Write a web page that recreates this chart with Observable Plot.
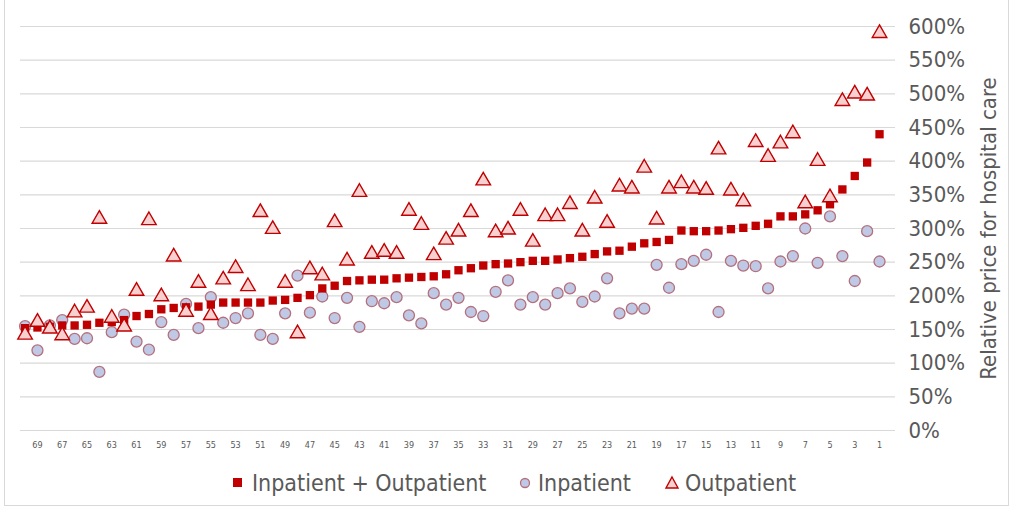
<!DOCTYPE html>
<html>
<head>
<meta charset="utf-8">
<script src="https://cdn.jsdelivr.net/npm/d3@7"></script>
<script src="https://cdn.jsdelivr.net/npm/@observablehq/plot@0.6"></script>
<style>
  body { margin: 0; background: #fff; }
  #wrap { position: relative; width: 1014px; height: 509px; overflow: hidden;
    font-family: "Liberation Sans Narrow", "DejaVu Sans Condensed", sans-serif; color: #595959; }
  #frame { position: absolute; left: 4px; top: -1px; width: 1005px; height: 507px; border: 1px solid #d9d9d9; box-sizing: border-box; }
  #chart { position: absolute; left: 0; top: 0; }
  .leg { position: absolute; top: 469px; font-size: 23px; line-height: 28px; white-space: nowrap; color: #595959; }
  .sym { position: absolute; top: 473px; }
</style>
</head>
<body>
<div id="wrap">
  <div id="frame"></div>
  <div id="chart"></div>
  <svg class="sym" style="left:231px" width="14" height="20"><rect x="2" y="5" width="9" height="9" fill="#c00000"/></svg>
  <div class="leg" style="left:252px">Inpatient + Outpatient</div>
  <svg class="sym" style="left:517px" width="16" height="20"><circle cx="8" cy="10" r="4.5" fill="#bfc9e6" stroke="#b5707c" stroke-width="1.3"/></svg>
  <div class="leg" style="left:538px">Inpatient</div>
  <svg class="sym" style="left:663px" width="18" height="20"><path d="M9,4 L15,15 L3,15 Z" fill="#f9d0d0" stroke="#c00000" stroke-width="1.4"/></svg>
  <div class="leg" style="left:685px">Outpatient</div>
</div>
<script>
// Hospitals ranked from left (70) to right (1)
const hospital = [70,69,68,67,66,65,64,63,62,61,60,59,58,57,56,55,54,53,52,51,50,49,48,47,46,45,44,43,42,41,40,39,38,37,36,35,34,33,32,31,30,29,28,27,26,25,24,23,22,21,20,19,18,17,16,15,14,13,12,11,10,9,8,7,6,5,4,3,2,1];

// Relative price (%) – Inpatient + Outpatient
const combined = [152,153,154,156,156,157,160,161,164,170,173,180,182,183,184,187,190,190,190,190,193,194,197,201,211,215,222,223,224,224,226,227,228,229,232,238,241,245,247,248,250,252,252,254,256,258,262,266,267,273,278,280,283,297,296,296,297,299,301,304,307,318,318,321,327,336,358,378,398,440];

// Relative price (%) – Inpatient
const inpatient = [155,119,156,164,136,137,87,146,172,132,120,161,142,188,152,198,160,167,174,142,136,174,230,175,199,167,197,154,192,189,198,171,159,204,187,197,176,170,206,223,187,198,187,204,211,191,199,226,174,181,181,246,212,247,252,261,176,252,245,244,211,251,259,300,249,318,259,222,296,251];

// Relative price (%) – Outpatient
const outpatient = [142,161,151,141,175,182,314,167,154,207,312,199,258,176,219,171,224,241,214,324,299,219,144,239,230,309,252,354,262,265,262,326,305,260,283,295,324,371,294,298,326,280,318,318,336,295,344,308,362,359,390,313,359,367,359,357,417,356,340,428,406,426,441,337,400,346,489,500,497,590];

const yTicks = [0,50,100,150,200,250,300,350,400,450,500,550,600];
const xTicks = [69,67,65,63,61,59,57,55,53,51,49,47,45,43,41,39,37,35,33,31,29,27,25,23,21,19,17,15,13,11,9,7,5,3,1];
const yTitle = "Relative price for hospital care";

const data = hospital.map((h, i) => ({h, combined: combined[i], inpatient: inpatient[i], outpatient: outpatient[i]}));

const plot = Plot.plot({
  width: 1014,
  height: 460,
  marginLeft: 20,
  marginRight: 119,
  marginTop: 26,
  marginBottom: 30,
  style: {fontFamily: '"Liberation Sans Narrow", "DejaVu Sans Condensed", sans-serif', color: "#595959", background: "transparent", overflow: "visible"},
  x: {domain: [70.37, -0.29], axis: null, label: null},
  y: {domain: [0, 600], axis: null, label: null},
  marks: [
    Plot.gridY(yTicks, {stroke: "#d9d9d9", strokeOpacity: 1, strokeWidth: 1.2}),
    Plot.axisY(yTicks, {anchor: "right", tickSize: 0, tickPadding: 13, tickFormat: d => d + "%", fontSize: 22, label: null}),
    Plot.axisX(xTicks, {anchor: "bottom", tickSize: 0, tickPadding: 11, fontSize: 9, label: null}),
    Plot.dot(data, {x: "h", y: "inpatient", symbol: "circle", r: 5.5, fill: "#bfc9e6", stroke: "#b5707c", strokeWidth: 1.3}),
    Plot.dot(data, {x: "h", y: "combined", symbol: "square", r: 4.7, fill: "#c00000", stroke: "none"}),
    Plot.dot(data, {x: "h", y: "outpatient", symbol: "triangle", r: 5.4, fill: "#f9d0d0", stroke: "#c00000", strokeWidth: 1.4}),
    Plot.text([yTitle], {text: d => d, frameAnchor: "right", dx: 93, rotate: -90, textAnchor: "middle", fontSize: 22, fill: "#595959"})
  ]
});
document.getElementById("chart").appendChild(plot);
</script>
</body>
</html>
